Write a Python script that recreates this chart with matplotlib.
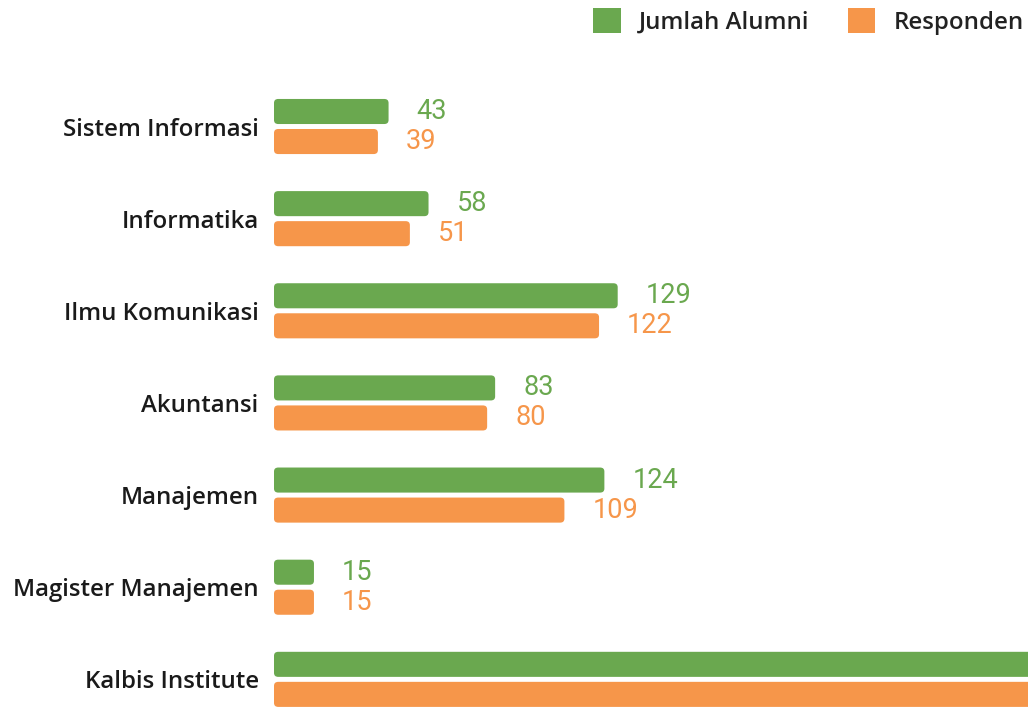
import numpy as np
import matplotlib.pyplot as plt
from matplotlib.patches import FancyBboxPatch, Patch

categories = ['Sistem Informasi', 'Informatika', 'Ilmu Komunikasi', 'Akuntansi',
              'Manajemen', 'Magister Manajemen', 'Kalbis Institute']
alumni = [43, 58, 129, 83, 124, 15, 452]
responden = [39, 51, 122, 80, 109, 15, 416]

green = '#6aa84f'
orange = '#f6964a'

fig = plt.figure(figsize=(10.28, 7.07), dpi=100)
ax = fig.add_axes([274/1028, 0, 1 - 274/1028, 1])

y = np.arange(len(categories))
off = 0.163
h = 0.272
b1 = ax.barh(y - off, alumni, height=h, color=green)
b2 = ax.barh(y + off, responden, height=h, color=orange)

ax.set_xlim(0, 283)
ax.set_ylim(6.30, -1.373)

# swap plain rectangles for rounded ones
for bars in (b1, b2):
    for r in bars:
        fb = FancyBboxPatch((r.get_x(), r.get_y()), r.get_width(), r.get_height(),
                            boxstyle='round,pad=0,rounding_size=1.6',
                            mutation_aspect=0.027, facecolor=r.get_facecolor(),
                            edgecolor='none')
        ax.add_patch(fb)
        r.set_visible(False)

for i in range(len(categories)):
    if alumni[i] < 283:
        ax.text(alumni[i] + 10.5, y[i] - off, str(alumni[i]), color=green,
                fontsize=19.5, family='Roboto', va='center', ha='left')
    if responden[i] < 283:
        ax.text(responden[i] + 10.5, y[i] + off, str(responden[i]), color=orange,
                fontsize=19.5, family='Roboto', va='center', ha='left')

ax.set_yticks(y)
ax.set_yticklabels(categories, family='Open Sans', fontsize=17.3,
                   fontweight='semibold', color='#1a1a1a')
ax.tick_params(axis='y', length=0, pad=11)
ax.set_xticks([])
for s in ax.spines.values():
    s.set_visible(False)

handles = [Patch(facecolor=green, label='Jumlah Alumni'),
           Patch(facecolor=orange, label='Responden')]
fig.legend(handles=handles, loc='upper right', bbox_to_anchor=(1.012, 1.012), ncol=2,
           frameon=False, prop={'family': 'Open Sans', 'size': 17.3, 'weight': 'semibold'},
           handlelength=1.15, handleheight=1.2, columnspacing=1.6, handletextpad=0.75,
           labelcolor='#222222', borderaxespad=0.3)

plt.savefig('out.png', dpi=100)
